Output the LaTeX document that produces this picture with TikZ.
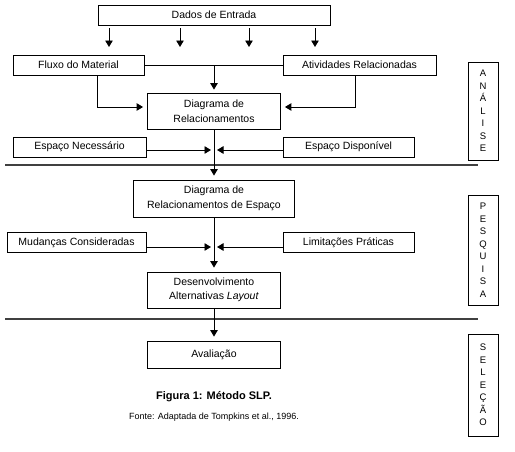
\documentclass[tikz,border=0pt]{standalone}
\usepackage{fontspec}
\setmainfont{Liberation Sans}
\usetikzlibrary{arrows.meta}

\begin{document}
\begin{tikzpicture}
	[%
	x=1pt, y=-1pt,%
	box/.style  ={rectangle,	draw=black,	fill=white,	line width=0.8pt,	inner sep=0pt,	align=center,	font=\fontsize{10.5}{14.5}\selectfont},%
	phase/.style={rectangle,	draw=black,	fill=white,	line width=0.8pt,	inner sep=0pt,	minimum width=30pt,	align=center,	font=\fontsize{9.5}{12.5}\selectfont},%
	flow/.style ={line width=0.9pt,	-{Triangle[length=6.5pt,width=7.5pt]}},%
	sep/.style  ={line width=1.3pt,	draw=black!75},%
	]

	\newcommand\xmid{214}
	\newcommand{\xsep}{478}

	% frame
	\useasboundingbox (0,0) rectangle (515,451);

	% separators
	\foreach \y in {165,319} \draw [sep] (5,\y) -- (\xsep,\y);

	% nodes
	\node (dados)  at (\xmid,15)  [box, minimum width=232pt, minimum height=20pt] {Dados de Entrada};

	\node (fluxo)  at (78.5,65)   [box, minimum width=131pt, minimum height=20pt] {Fluxo do Material};
	\node (ativ)   at (359.5,65)  [box, minimum width=153pt, minimum height=20pt] {Atividades Relacionadas};
	\node (diag1)  at (\xmid,111) [box, minimum width=133pt, minimum height=36pt] {Diagrama de\\Relacionamentos};

	\node (espN)   at (79.5,147)  [box, minimum width=133pt, minimum height=20pt] {Espaço Necessário};
	\node (espD)   at (348.5,147) [box, minimum width=131pt, minimum height=20pt] {Espaço Disponível};
	\node (diag2)  at (\xmid,198.5) [box, minimum width=161pt, minimum height=37pt] {Diagrama de\\Relacionamentos de Espaço};

	\node (mud)    at (76.5,242.5)  [box, minimum width=139pt, minimum height=20pt] {Mudanças Consideradas};
	\node (lim)    at (348.5,242.5) [box, minimum width=131pt, minimum height=20pt] {Limitações Práticas};
	\node (desenv) at (\xmid,290)   [box, minimum width=133pt, minimum height=36pt] {Desenvolvimento\\Alternativas \textit{Layout}};

	\node (aval)   at (\xmid,354.5) [box, minimum width=133pt, minimum height=27pt] {Avaliação};

	\node (analise)  at (483,111) [phase, minimum height=98pt]  {A\\N\\Á\\L\\I\\S\\E};
	\node (pesquisa) at (483,250) [phase, minimum height=110pt] {P\\E\\S\\Q\\U\\I\\S\\A};
	\node (selecao)  at (483,385) [phase, minimum height=102pt] {S\\E\\L\\E\\Ç\\Ã\\O};

	\node (titulo) at (\xmid,397) [font=\bfseries\fontsize{11}{13}\selectfont] {Figura 1: Método SLP.};
	\node (fonte)  at (\xmid,417) [font=\fontsize{9}{10}\selectfont] {Fonte: Adaptada de Tompkins et al., 1996.};

	% junctions
	\coordinate (j1) at (\xmid,150);
	\coordinate (j2) at (\xmid,247);

	% interconnections
	\foreach \i/\x in {0/109,1/180,2/249,3/315} {
		\coordinate (in\i) at (\x,47);
		\draw [flow, shorten <=3pt] (dados.south -| in\i) -- (in\i);
	}

	\draw [line width=0.9pt] (fluxo) -- (ativ);
	\draw [flow, shorten >=3pt] (fluxo -| diag1) -- (diag1);
	\draw [flow, shorten >=4pt] ([xshift=18.5pt]fluxo.south) |- ([yshift=4pt]diag1.west);
	\draw [flow, shorten >=4pt] ([xshift=-4.5pt]ativ.south) |- ([yshift=4pt]diag1.east);

	\draw [flow, shorten >=4pt] (diag1) -- (diag2);
	\draw [flow, shorten >=3pt] (espN.east |- j1) -- (j1);
	\draw [flow, shorten >=3pt] (espD.west |- j1) -- (j1);

	\draw [flow, shorten >=4pt] (diag2) -- (desenv);
	\draw [flow, shorten >=3pt] (mud.east |- j2) -- (j2);
	\draw [flow, shorten >=3pt] (lim.west |- j2) -- (j2);

	\draw [flow, shorten >=4pt] (desenv) -- (aval);

\end{tikzpicture}
\end{document}
